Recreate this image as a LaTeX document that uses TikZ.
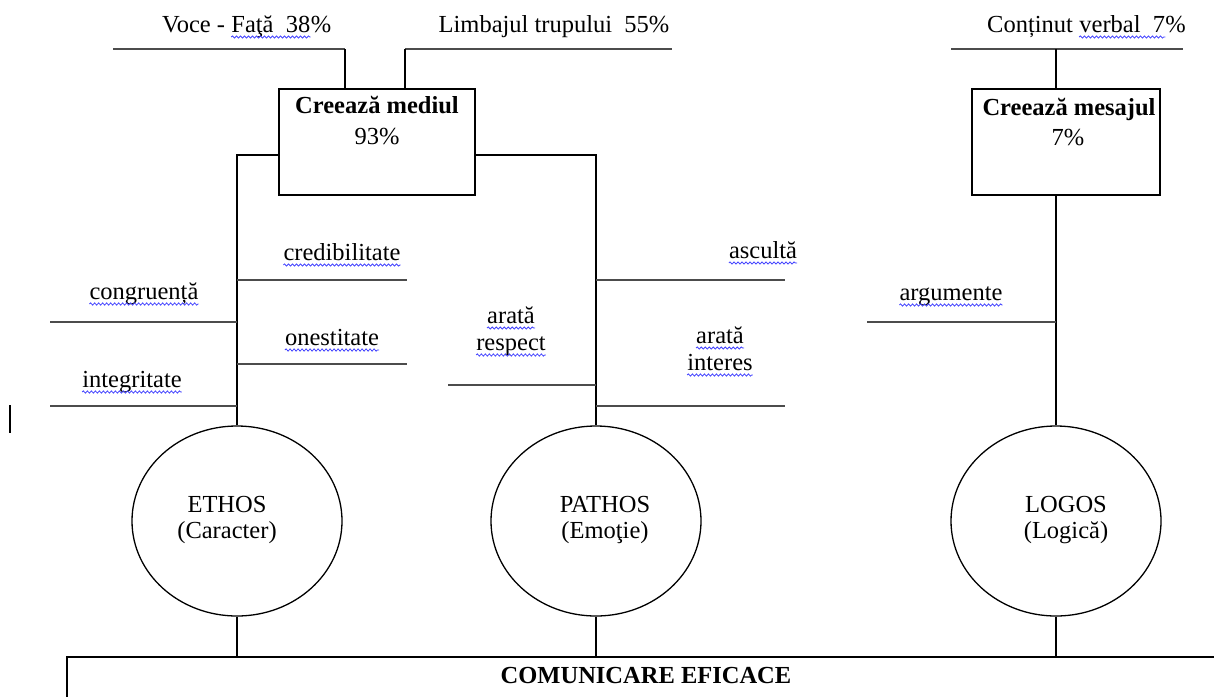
\documentclass[tikz,border=0pt]{standalone}
\usepackage{fontspec}
\setmainfont{Liberation Serif}
\usetikzlibrary{shapes.geometric,decorations.pathmorphing}

% wavy spell-check underline below a label node
\newcommand\wavyline[1]{\draw[spell] ([yshift=-5pt]#1.base west) -- ([yshift=-5pt]#1.base east);}

\begin{document}
\begin{tikzpicture}[x=1pt,y=-1pt,
  txt/.style={font=\fontsize{24.5}{28}\selectfont, inner sep=0pt, anchor=base},
  btxt/.style={txt, font=\fontsize{24.5}{28}\selectfont\bfseries},
  ltxt/.style={txt, anchor=base west},
  stem/.style={draw=black, line width=1.4pt},
  branch/.style={draw=black!70, line width=2.4pt},
  frame/.style={draw=black, line width=1.4pt, rectangle, inner sep=0pt},
  oval/.style={draw=black, line width=1.3pt, ellipse, inner sep=0pt,
               minimum width=210pt, minimum height=190pt},
  spell/.style={draw=blue!75!white, line width=0.8pt, decorate,
                decoration={snake, amplitude=1.1pt, segment length=4pt}},
]
\useasboundingbox (0,0) rectangle (1214,696);
\clip (0,0) rectangle (1214,696);

% ---------- boxes and circles ----------
\node[frame, minimum width=196pt, minimum height=106pt] (mediu) at (377,142) {};
\node[btxt] (mediuT) at (377,113) {Creează mediul};
\node[txt]  (mediuP) at (377,144) {93\%};

\node[frame, minimum width=188pt, minimum height=106pt] (mesaj) at (1066,142) {};
\node[btxt] (mesajT) at (1069,115) {Creează mesajul};
\node[txt]  (mesajP) at (1068,145) {7\%};

\node[oval] (ethos)  at (237,521) {};
\node[oval] (pathos) at (596,521) {};
\node[oval] (logos)  at (1056,521) {};
\node[txt] (ethosA)  at (227,512) {ETHOS};
\node[txt] (ethosB)  at (227,538) {(Caracter)};
\node[txt] (pathosA) at (605,512) {PATHOS};
\node[txt] (pathosB) at (605,538) {(Emoţie)};
\node[txt] (logosA)  at (1066,512) {LOGOS};
\node[txt] (logosB)  at (1066,538) {(Logică)};

\node[frame, line width=2.2pt, minimum width=1173pt, minimum height=83pt] (baseBox) at (653.5,698.5) {};
\node[btxt] (baseT) at (646,683) {COMUNICARE EFICACE};

% ---------- top labels and their lines ----------
\node[ltxt] (voceA) at (162,32) {Voce -};
\node[ltxt] (voceB) at ([xshift=6pt]voceA.base east) {Faţă\ \ 38};
\node[ltxt] (voceC) at (voceB.base east) {\%};
\wavyline{voceB}
\node[txt] (limb) at (554,32) {Limbajul trupului\ \ 55\%};
\node[ltxt] (contA) at (987,32) {Conținut};
\node[ltxt] (contB) at ([xshift=6pt]contA.base east) {verbal\ \ 7};
\node[ltxt] (contC) at (contB.base east) {\%};
\wavyline{contB}

\coordinate (voceL) at (113,49);
\coordinate (voceR) at (345,49);
\coordinate (limbL) at (405,49);
\coordinate (limbR) at (672,49);
\coordinate (contL) at (951,49);
\coordinate (contR) at (1183,49);
\coordinate (contJ) at (1056,49);
\draw[branch] (voceL) -- (voceR);
\draw[branch] (limbL) -- (limbR);
\draw[branch] (contL) -- (contR);
\draw[stem] (voceR) -- (voceR |- mediu.north);
\draw[stem] (limbL) -- (limbL |- mediu.north);
\draw[stem] (contJ) -- (contJ |- mesaj.north);

% ---------- trunks down to the circles ----------
\coordinate (jE) at (237,155);
\coordinate (jP) at (596,155);
\draw[stem] (jE -| mediu.west) -- (jE) -- (ethos.north);
\draw[stem] (jP -| mediu.east) -- (jP) -- (pathos.north);
\draw[stem] (mesaj.south -| logos.north) -- (logos.north);

% ---------- ETHOS branches ----------
\coordinate (credE) at (407,280);
\coordinate (congE) at (50,322);
\coordinate (onesE) at (407,364);
\coordinate (inteE) at (50,406);
\draw[branch] (credE -| ethos.north) -- (credE);
\draw[branch] (congE) -- (congE -| ethos.north);
\draw[branch] (onesE -| ethos.north) -- (onesE);
\draw[branch] (inteE) -- (inteE -| ethos.north);
\node[txt] (cred) at (342,260) {credibilitate};
\node[txt] (cong) at (144,299) {congruență};
\node[txt] (ones) at (332,345) {onestitate};
\node[txt] (inte) at (132,387) {integritate};
\wavyline{cred}\wavyline{cong}\wavyline{ones}\wavyline{inte}

% ---------- PATHOS branches ----------
\coordinate (ascE)  at (785,280);
\coordinate (respE) at (448,385);
\coordinate (intE)  at (785,406);
\draw[branch] (ascE -| pathos.north) -- (ascE);
\draw[branch] (respE) -- (respE -| pathos.north);
\draw[branch] (intE -| pathos.north) -- (intE);
\node[txt] (asc)   at (763,258) {ascultă};
\node[txt] (respA) at (511,323) {arată};
\node[txt] (respB) at (511,350) {respect};
\node[txt] (intA)  at (720,343) {arată};
\node[txt] (intB)  at (720,370) {interes};
\wavyline{asc}\wavyline{respA}\wavyline{respB}\wavyline{intA}\wavyline{intB}

% ---------- LOGOS branch ----------
\coordinate (argE) at (867,322);
\draw[branch] (argE) -- (argE -| logos.north);
\node[txt] (arg) at (951,300) {argumente};
\wavyline{arg}

% ---------- circles down to the base ----------
\draw[stem] (ethos.south)  -- (ethos.south  |- baseBox.north);
\draw[stem] (pathos.south) -- (pathos.south |- baseBox.north);
\draw[stem] (logos.south)  -- (logos.south  |- baseBox.north);

% text cursor at the left margin
\draw[line width=1.5pt] (10,405) -- (10,433);
\end{tikzpicture}
\end{document}
